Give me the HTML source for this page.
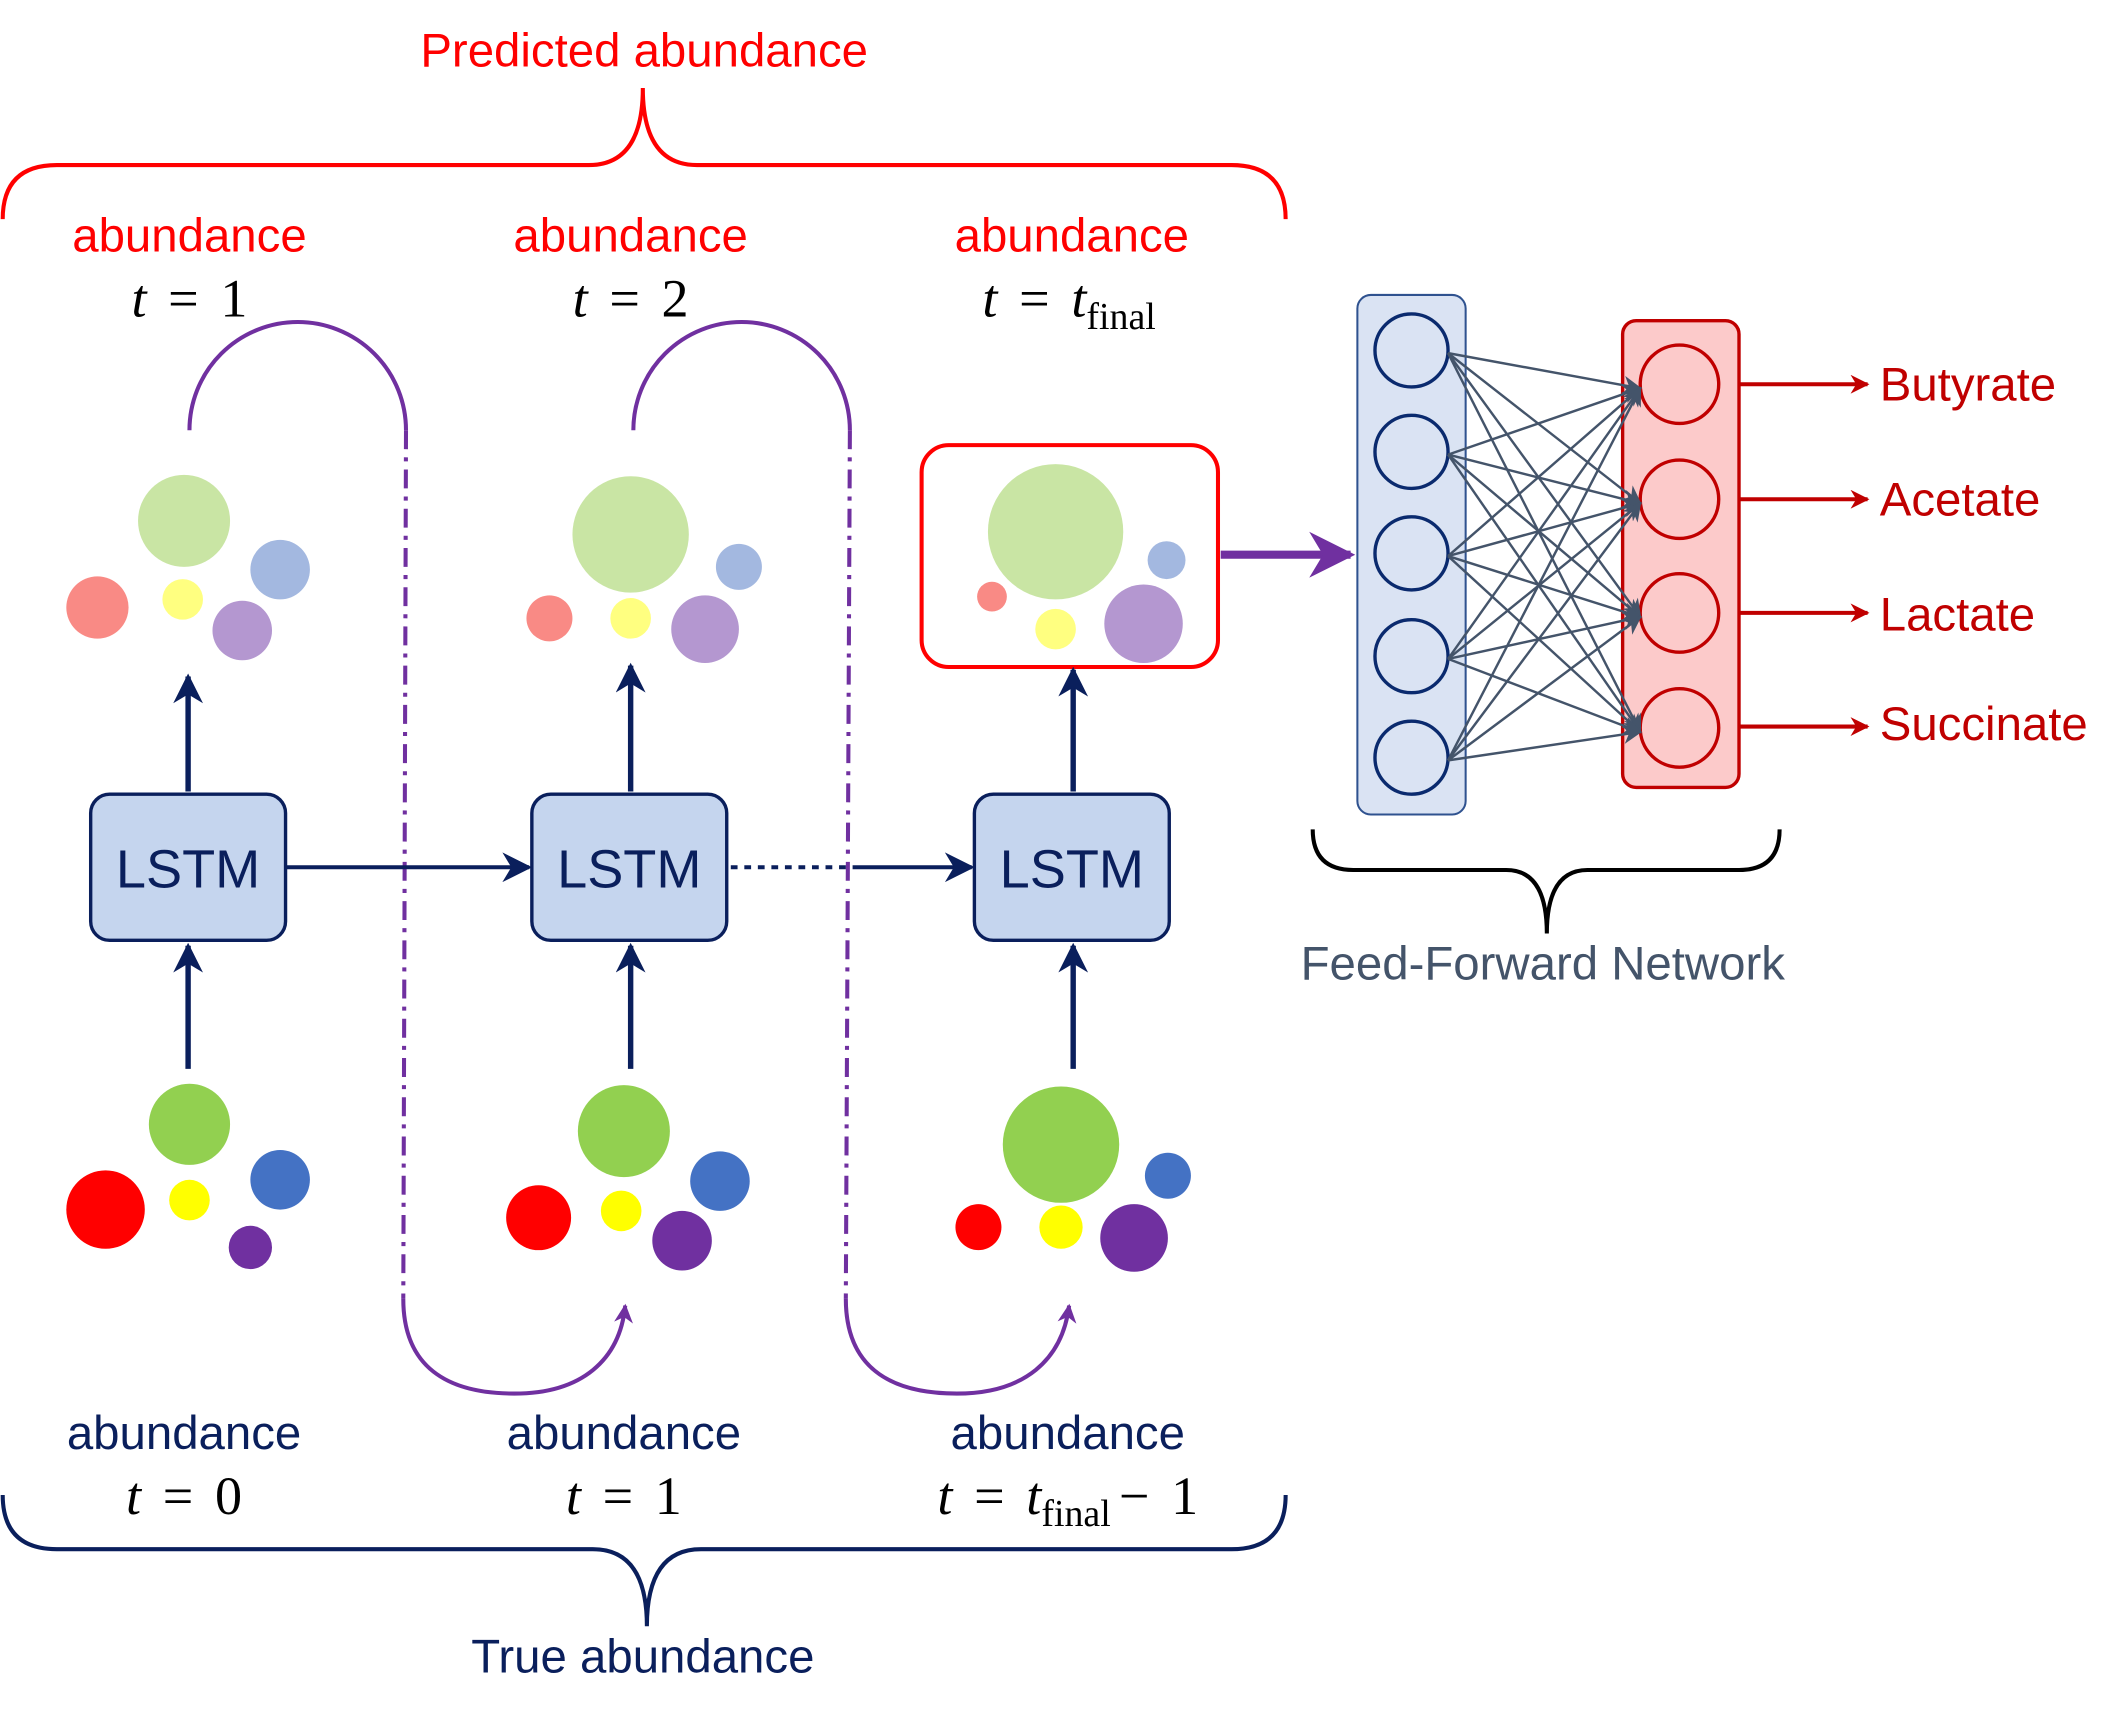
<!DOCTYPE html>
<html><head><meta charset="utf-8"><style>html,body{margin:0;padding:0;background:#fff}svg{display:block}</style></head>
<body>
<svg width="2122" height="1721" viewBox="0 0 1568 1272" preserveAspectRatio="none" xmlns="http://www.w3.org/2000/svg" font-family="Liberation Sans, sans-serif">
<defs>
<marker id="n2" viewBox="0 0 10 10" markerWidth="22" markerHeight="22" refX="9" refY="5" orient="auto" markerUnits="userSpaceOnUse"><path d="M0,0 L10,5 L0,10 L3,5z" fill="#0a1f5c"/></marker>
<marker id="pp" viewBox="0 0 10 10" markerWidth="14" markerHeight="14" refX="9" refY="5" orient="auto" markerUnits="userSpaceOnUse"><path d="M0,0 L10,5 L0,10 L3,5z" fill="#7030a0"/></marker>
<marker id="pb" viewBox="0 0 10 10" markerWidth="34" markerHeight="34" refX="9" refY="5" orient="auto" markerUnits="userSpaceOnUse"><path d="M0,0 L10,5 L0,10 L3,5z" fill="#7030a0"/></marker>
<marker id="gr" viewBox="0 0 10 10" markerWidth="14" markerHeight="14" refX="9" refY="5" orient="auto" markerUnits="userSpaceOnUse"><path d="M0,0 L10,5 L0,10 L3,5z" fill="#44546a"/></marker>
<marker id="rd" viewBox="0 0 10 10" markerWidth="14" markerHeight="14" refX="9" refY="5" orient="auto" markerUnits="userSpaceOnUse"><path d="M0,0 L10,5 L0,10 L3,5z" fill="#c00000"/></marker>
</defs>

<path d="M2,162 Q2,122 42,122 L435,122 Q475,122 475,65 Q475,122 515,122 L910,122 Q950,122 950,162" fill="none" stroke="#ff0000" stroke-width="3"/>
<text x="476" y="49" font-size="35" fill="#ff0000" text-anchor="middle">Predicted abundance</text>

<g font-size="35" fill="#ff0000" text-anchor="middle">
<text x="140" y="186">abundance</text><text x="466" y="186">abundance</text><text x="792" y="186">abundance</text>
</g>
<g font-family="Liberation Serif, serif" font-size="40" fill="#000" text-anchor="middle">
<text x="140" y="234"><tspan font-style="italic">t</tspan> <tspan dx="6">=</tspan> <tspan dx="6">1</tspan></text>
<text x="466" y="234"><tspan font-style="italic">t</tspan> <tspan dx="6">=</tspan> <tspan dx="6">2</tspan></text>
<text x="790" y="234"><tspan font-style="italic">t</tspan> <tspan dx="6">=</tspan> <tspan dx="6" font-style="italic">t</tspan><tspan font-size="28" dy="9">final</tspan></text>
</g>

<g fill="none" stroke="#7030a0" stroke-width="3">
<path d="M140,318 A80,80 0 0 1 300,318"/>
<path d="M468,318 A80,80 0 0 1 628,318"/>
<path d="M300,318 L298,960" stroke-dasharray="14,6,3,6"/>
<path d="M628,318 L625,960" stroke-dasharray="14,6,3,6"/>
<path d="M298,960 C298,1010 330,1030 380,1030 C430,1030 458,1005 462,965" marker-end="url(#pp)"/>
<path d="M625,960 C625,1010 657,1030 707,1030 C757,1030 785,1005 790,965" marker-end="url(#pp)"/>
</g>

<g>
<circle cx="136" cy="385" r="34" fill="#c9e5a4"/><circle cx="207" cy="421" r="22" fill="#a3b8e0"/><circle cx="72" cy="449" r="23" fill="#f98a85"/><circle cx="135" cy="443" r="15" fill="#ffff80"/><circle cx="179" cy="466" r="22" fill="#b497d0"/>
<circle cx="466" cy="395" r="43" fill="#c9e5a4"/><circle cx="546" cy="419" r="17" fill="#a3b8e0"/><circle cx="406" cy="457" r="17" fill="#f98a85"/><circle cx="466" cy="457" r="15" fill="#ffff80"/><circle cx="521" cy="465" r="25" fill="#b497d0"/>
<rect x="681" y="329" width="219" height="164" rx="20" fill="#fff" stroke="#ff0000" stroke-width="3"/>
<circle cx="780" cy="393" r="50" fill="#c9e5a4"/><circle cx="862" cy="414" r="14" fill="#a3b8e0"/><circle cx="733" cy="441" r="11" fill="#f98a85"/><circle cx="780" cy="465" r="15" fill="#ffff80"/><circle cx="845" cy="461" r="29" fill="#b497d0"/>
</g>

<g stroke="#0a1f5c" stroke-width="4" fill="none">
<path d="M139,585 L139,500" marker-end="url(#n2)"/>
<path d="M466,585 L466,492" marker-end="url(#n2)"/>
<path d="M793,585 L793,495" marker-end="url(#n2)"/>
<path d="M139,790 L139,699" marker-end="url(#n2)"/>
<path d="M466,790 L466,699" marker-end="url(#n2)"/>
<path d="M793,790 L793,699" marker-end="url(#n2)"/>
<path d="M211,641 L391,641" stroke-width="3" marker-end="url(#n2)"/>
<path d="M540,641 L630,641" stroke-width="3" stroke-dasharray="5,5"/>
<path d="M630,641 L718,641" stroke-width="3" marker-end="url(#n2)"/>
</g>

<g fill="#c5d5ee" stroke="#0a1f5c" stroke-width="2.5">
<rect x="67" y="587" width="144" height="108" rx="14"/>
<rect x="393" y="587" width="144" height="108" rx="14"/>
<rect x="720" y="587" width="144" height="108" rx="14"/>
</g>
<g font-size="40" fill="#0a1f5c" text-anchor="middle">
<text x="139" y="656">LSTM</text><text x="465" y="656">LSTM</text><text x="792" y="656">LSTM</text>
</g>

<g>
<circle cx="140" cy="831" r="30" fill="#92d050"/><circle cx="207" cy="872" r="22" fill="#4472c4"/><circle cx="78" cy="894" r="29" fill="#ff0000"/><circle cx="140" cy="887" r="15" fill="#ffff00"/><circle cx="185" cy="922" r="16" fill="#7030a0"/>
<circle cx="461" cy="836" r="34" fill="#92d050"/><circle cx="532" cy="873" r="22" fill="#4472c4"/><circle cx="398" cy="900" r="24" fill="#ff0000"/><circle cx="459" cy="895" r="15" fill="#ffff00"/><circle cx="504" cy="917" r="22" fill="#7030a0"/>
<circle cx="784" cy="846" r="43" fill="#92d050"/><circle cx="863" cy="869" r="17" fill="#4472c4"/><circle cx="723" cy="907" r="17" fill="#ff0000"/><circle cx="784" cy="907" r="16" fill="#ffff00"/><circle cx="838" cy="915" r="25" fill="#7030a0"/>
</g>

<g font-size="35" fill="#0a1f5c" text-anchor="middle">
<text x="136" y="1071">abundance</text><text x="461" y="1071">abundance</text><text x="789" y="1071">abundance</text>
</g>
<g font-family="Liberation Serif, serif" font-size="40" fill="#000" text-anchor="middle">
<text x="136" y="1119"><tspan font-style="italic">t</tspan> <tspan dx="6">=</tspan> <tspan dx="6">0</tspan></text>
<text x="461" y="1119"><tspan font-style="italic">t</tspan> <tspan dx="6">=</tspan> <tspan dx="6">1</tspan></text>
<text x="789" y="1119"><tspan font-style="italic">t</tspan> <tspan dx="6">=</tspan> <tspan dx="6" font-style="italic">t</tspan><tspan font-size="28" dy="9">final</tspan><tspan dy="-9" dx="6">−</tspan> <tspan dx="6">1</tspan></text>
</g>

<path d="M2,1105 Q2,1145 42,1145 L438,1145 Q478,1145 478,1202 Q478,1145 518,1145 L910,1145 Q950,1145 950,1105" fill="none" stroke="#0a1f5c" stroke-width="3"/>
<text x="475" y="1236" font-size="35" fill="#0a1f5c" text-anchor="middle">True abundance</text>

<path d="M902,410 L998,410" stroke="#7030a0" stroke-width="6" marker-end="url(#pb)"/>

<rect x="1003" y="218" width="80" height="384" rx="10" fill="#dae3f3" stroke="#2f528f" stroke-width="1.5"/>
<rect x="1199" y="237" width="86" height="345" rx="10" fill="#fccaca" stroke="#c00000" stroke-width="2.5"/>
<g fill="none" stroke="#0a2a6e" stroke-width="2.5">
<circle cx="1043" cy="259" r="27"/><circle cx="1043" cy="334" r="27"/><circle cx="1043" cy="409" r="27"/><circle cx="1043" cy="485" r="27"/><circle cx="1043" cy="560" r="27"/>
</g>
<g fill="none" stroke="#c00000" stroke-width="2.5">
<circle cx="1241" cy="284" r="29"/><circle cx="1241" cy="369" r="29"/><circle cx="1241" cy="453" r="29"/><circle cx="1241" cy="538" r="29"/>
</g>
<g stroke="#44546a" stroke-width="1.8" marker-end="url(#gr)">
<line x1="1070" y1="261" x2="1212" y2="287"/><line x1="1070" y1="261" x2="1212" y2="372"/><line x1="1070" y1="261" x2="1212" y2="456"/><line x1="1070" y1="261" x2="1212" y2="541"/>
<line x1="1070" y1="336" x2="1212" y2="287"/><line x1="1070" y1="336" x2="1212" y2="372"/><line x1="1070" y1="336" x2="1212" y2="456"/><line x1="1070" y1="336" x2="1212" y2="541"/>
<line x1="1070" y1="411" x2="1212" y2="287"/><line x1="1070" y1="411" x2="1212" y2="372"/><line x1="1070" y1="411" x2="1212" y2="456"/><line x1="1070" y1="411" x2="1212" y2="541"/>
<line x1="1070" y1="487" x2="1212" y2="287"/><line x1="1070" y1="487" x2="1212" y2="372"/><line x1="1070" y1="487" x2="1212" y2="456"/><line x1="1070" y1="487" x2="1212" y2="541"/>
<line x1="1070" y1="562" x2="1212" y2="287"/><line x1="1070" y1="562" x2="1212" y2="372"/><line x1="1070" y1="562" x2="1212" y2="456"/><line x1="1070" y1="562" x2="1212" y2="541"/>
</g>
<g stroke="#c00000" stroke-width="3" marker-end="url(#rd)">
<line x1="1285" y1="284" x2="1380" y2="284"/><line x1="1285" y1="369" x2="1380" y2="369"/><line x1="1285" y1="453" x2="1380" y2="453"/><line x1="1285" y1="537" x2="1380" y2="537"/>
</g>
<g font-size="35" fill="#c00000">
<text x="1389" y="296">Butyrate</text><text x="1389" y="381">Acetate</text><text x="1389" y="466">Lactate</text><text x="1389" y="547">Succinate</text>
</g>

<path d="M970,613 Q970,643 1000,643 L1113,643 Q1143,643 1143,690 Q1143,643 1173,643 L1285,643 Q1315,643 1315,613" fill="none" stroke="#000" stroke-width="3"/>
<text x="1140" y="724" font-size="35" fill="#44546a" text-anchor="middle">Feed-Forward Network</text>
</svg>
</body></html>
